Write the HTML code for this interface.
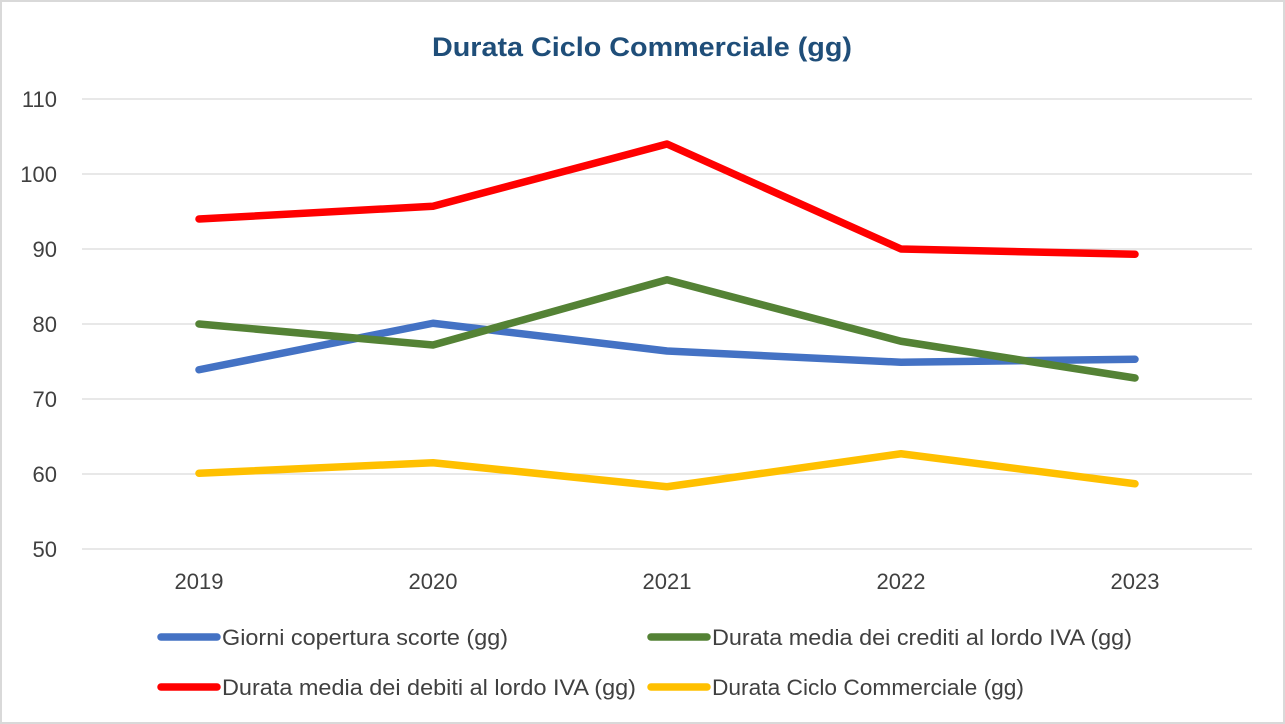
<!DOCTYPE html>
<html><head><meta charset="utf-8"><style>
html,body{margin:0;padding:0;background:#fff;}
svg{display:block;font-family:"Liberation Sans",sans-serif;}
</style></head><body>
<svg id="chart" width="1285" height="724" viewBox="0 0 1285 724">
<rect x="1" y="1" width="1283" height="722" fill="#fff" stroke="#d9d9d9" stroke-width="2"/>
<text x="642" y="56" text-anchor="middle" font-size="27" font-weight="bold" fill="#1f4e79" textLength="420" lengthAdjust="spacingAndGlyphs">Durata Ciclo Commerciale (gg)</text>
<g id="grid"></g><g id="series"></g><g id="legend"></g>
</svg>
<script>
const categories=["2019","2020","2021","2022","2023"];
const yTicks=[50,60,70,80,90,100,110];
const seriesNames=["Giorni copertura scorte (gg)","Durata media dei crediti al lordo IVA (gg)","Durata media dei debiti al lordo IVA (gg)","Durata Ciclo Commerciale (gg)"];
const scorte=[73.9,80.1,76.4,74.9,75.3];
const crediti=[80,77.2,85.9,77.7,72.8];
const debiti=[94,95.7,104,90,89.3];
const ciclo=[60.1,61.5,58.3,62.7,58.7];
const colors=["#4472c4","#548235","#ff0000","#ffc000"];
const legendWidths=[286,420,414,312];
const ns="http://www.w3.org/2000/svg";
const L=82,R=1252,T=99,B=549;
const y=v=>B-(v-50)/60*(B-T);
const x=i=>L+(R-L)/categories.length*(i+0.5);
function mk(t,a,p){const e=document.createElementNS(ns,t);for(const k in a)e.setAttribute(k,a[k]);p.appendChild(e);return e;}
const g=document.getElementById('grid');
yTicks.forEach(v=>{
 const l=mk('line',{x1:L,x2:R,y1:y(v),y2:y(v),stroke:'#d9d9d9','stroke-width':1.3},g);
 
 
 const t=mk('text',{x:57,y:y(v)+8,'text-anchor':'end','font-size':22,fill:'#404040'},g);t.textContent=v;
 
 
});
categories.forEach((c,i)=>{
 const t=mk('text',{x:x(i),y:589,'text-anchor':'middle','font-size':22,fill:'#404040'},g);t.textContent=c;
 
 
});
const s=document.getElementById('series');
[scorte,crediti,debiti,ciclo].forEach((d,k)=>{
 const p=mk('polyline',{points:d.map((v,i)=>x(i)+','+y(v)).join(' '),fill:'none',stroke:colors[k],'stroke-width':7.5,'stroke-linecap':'round','stroke-linejoin':'round'},s);
 
 
});
const lg=document.getElementById('legend');
const pos=[[158,637],[648,637],[158,687],[648,687]];
seriesNames.forEach((n,k)=>{
 const [lx,ly]=pos[k];
 const l=mk('line',{x1:lx+3,x2:lx+59,y1:ly,y2:ly,stroke:colors[k],'stroke-width':7.5,'stroke-linecap':'round'},lg);
 
 
 const t=mk('text',{x:lx+64,y:ly+8,'font-size':22,fill:'#404040',textLength:legendWidths[k],lengthAdjust:'spacingAndGlyphs'},lg);t.textContent=n;
 
 
});
</script>
</body></html>
